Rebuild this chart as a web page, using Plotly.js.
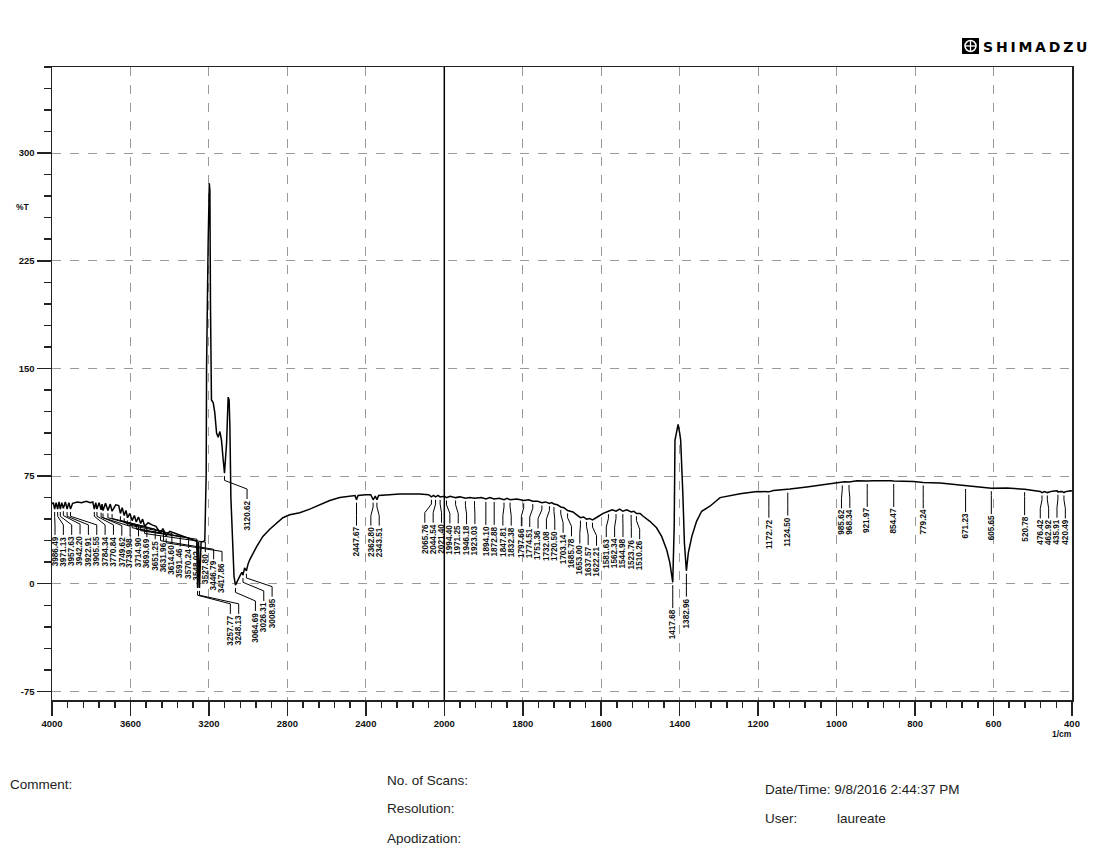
<!DOCTYPE html>
<html>
<head>
<meta charset="utf-8">
<script src="https://cdn.plot.ly/plotly-3.0.1.min.js"></script>
<style>
  html, body { margin: 0; padding: 0; background: #fff; }
  #chart { width: 1094px; height: 845px; }
</style>
</head>
<body>
<div id="chart"></div>
<script>
// ---- spectrum data: wavenumber (1/cm) and %T ----
const wavenumbers = [
  4000, 3993, 3986.49, 3979, 3971.13, 3964, 3957.63, 3950, 3942.20, 3932, 3922.91, 3914, 3905.55, 3895,
  3870, 3850, 3825, 3805, 3792, 3784.34, 3777, 3770.84, 3760, 3749.62, 3745, 3739.98, 3727, 3714.90,
  3703, 3693.69, 3675, 3660, 3651.25, 3642, 3631.96, 3623, 3614.60, 3603, 3591.46, 3580, 3570.24, 3559,
  3548.02, 3538, 3527.80, 3510, 3490, 3470, 3446.79, 3435, 3417.86, 3400, 3370, 3340, 3300, 3275, 3262,
  3257.77, 3253, 3248.13, 3240, 3230, 3221, 3214, 3212, 3204, 3198, 3195, 3192, 3187, 3178, 3170, 3161,
  3153, 3144, 3136, 3127, 3120.62, 3110, 3102, 3097, 3093, 3088, 3080, 3072, 3064.69, 3058, 3050, 3040,
  3032, 3026.31, 3018, 3008.95, 3000, 2991, 2956, 2925, 2890, 2854, 2823, 2788, 2737, 2686, 2635, 2584,
  2533, 2482, 2455, 2447.67, 2440, 2400, 2375, 2362.80, 2352, 2343.51, 2335, 2280, 2227, 2125, 2080,
  2065.76, 2055, 2044.54, 2032, 2021.40, 2000, 1994.40, 1985, 1971.25, 1960, 1946.18, 1935, 1923.03,
  1905, 1894.10, 1884, 1872.88, 1860, 1847.81, 1840, 1832.38, 1815, 1797.66, 1785, 1774.51, 1762,
  1751.36, 1742, 1732.08, 1726, 1720.50, 1712, 1703.14, 1695, 1685.78, 1672, 1660, 1653.00, 1645,
  1637.57, 1630, 1622.21, 1610, 1595, 1581.63, 1572, 1562.34, 1553, 1544.98, 1535, 1523.76, 1517,
  1510.26, 1501, 1493, 1476, 1459, 1446, 1433, 1425, 1417.68, 1414, 1412, 1407, 1404, 1400, 1397.5,
  1392, 1388, 1382.96, 1378, 1369, 1357, 1344, 1323, 1297, 1270, 1246, 1203, 1172.72, 1161, 1124.50,
  1119, 1076, 1034, 985.62, 980, 968.34, 948, 921.97, 906, 863, 854.47, 804, 779.24, 736, 693, 671.23,
  651, 608, 605.65, 566, 523, 520.78, 481, 476.42, 470, 462.92, 450, 438, 435.91, 425, 420.49, 417, 404, 400
];
const transmittance = [
  55.5, 56.5, 52, 56.5, 52, 57, 52, 56.5, 52.5, 57, 52, 56.5, 52, 56,
  57, 56.5, 57.5, 56.5, 57, 52, 56.5, 52, 56.5, 51.5, 55.5, 51, 56, 51,
  55.5, 50.5, 55, 54.5, 49, 53, 47.5, 51, 46, 49, 44, 47.5, 43, 46.5,
  42, 45, 40, 42.5, 41, 40, 35, 38.5, 33.5, 36.5, 35, 33.5, 31.5, 30, 29.5,
  -3, 29, -3, 29, 29.5, 30, 76, 151, 237, 279, 274, 193, 128, 126, 119, 105,
  102, 106, 100, 86, 77, 98, 130, 128, 109, 60, 25, 5, -1, 1, 4, 6,
  8, 6, 11, 9, 14, 17, 26, 33, 38, 42.5, 46, 48, 49.5, 52, 55, 58,
  60, 61, 61.5, 58.5, 61.5, 62, 62, 58.5, 61, 58.5, 61.5, 62, 62.5, 62.5, 62,
  60.5, 61.5, 60.5, 61.5, 60.5, 61, 60, 61, 60, 60.5, 59.5, 60, 59.5,
  60, 59, 60, 59, 59.5, 58.5, 59.5, 58.5, 59, 58, 58.5, 57.5, 57.5,
  56.5, 57, 56, 56.5, 55.5, 55, 53.5, 53, 51, 50, 47.5, 46, 46.5,
  45, 45.5, 44.5, 46.5, 49, 50.5, 51.5, 50.5, 52, 50.5, 51.5, 50, 50.5,
  49, 49, 47, 43.5, 39, 33, 23.5, 14.5, 1, 40, 100, 109, 111, 105, 100,
  63, 28.5, 9, 21.5, 33, 43.5, 50.5, 54, 60, 61.5, 62.7, 64.3, 64, 65, 65.5,
  66, 67.4, 69, 70.5, 71, 70.8, 71.8, 71.5, 71.8, 71.8, 71.5, 71.3, 70.5, 70.2, 69, 68,
  67.4, 66.7, 66.5, 66.7, 66, 65.8, 64.3, 63.5, 64.2, 63.5, 64.5, 64.8, 64, 64.3, 63.5, 64.1, 64.8, 64.5
];

// ---- peak labels (wavenumbers of picked peaks) ----
const peakLabels = [
  "3986.49", "3971.13", "3957.63", "3942.20", "3922.91", "3905.55", "3784.34", "3770.84", "3749.62",
  "3739.98", "3714.90", "3693.69", "3651.25", "3631.96", "3614.60", "3591.46", "3570.24", "3548.02",
  "3527.80", "3446.79", "3417.86", "3257.77", "3248.13", "3120.62", "3064.69", "3026.31", "3008.95",
  "2447.67", "2362.80", "2343.51", "2065.76", "2044.54", "2021.40", "1994.40", "1971.25", "1946.18",
  "1923.03", "1894.10", "1872.88", "1847.81", "1832.38", "1797.66", "1774.51", "1751.36", "1732.08",
  "1720.50", "1703.14", "1685.78", "1653.00", "1637.57", "1622.21", "1581.63", "1562.34", "1544.98",
  "1523.76", "1510.26", "1417.68", "1382.96", "1172.72", "1124.50", "985.62", "968.34", "921.97",
  "854.47", "779.24", "671.23", "605.65", "520.78", "476.42", "462.92", "435.91", "420.49"
];

// ---- axis ticks ----
const xTickValues = [4000, 3600, 3200, 2800, 2400, 2000, 1800, 1600, 1400, 1200, 1000, 800, 600, 400];
const yTickValues = [-75, 0, 75, 150, 225, 300];

// ---- footer texts ----
const footerLeft = ["Comment:"];
const footerMid = ["No. of Scans:", "Resolution:", "Apodization:"];
const footerRight = ["Date/Time: 9/8/2016 2:44:37 PM", "User:", "laureate"];

// Shimadzu x scale: 4000-2000 compressed by 2 relative to 2000-400
function toU(w) { return w <= 2000 ? w : 2000 + (w - 2000) / 2; }

const M = { l: 52, r: 22, t: 67, b: 145 };
const FIG_W = 1094, FIG_H = 845;
const PW = FIG_W - M.l - M.r, PH = FIG_H - M.t - M.b;
const U_MAX = toU(4000), U_MIN = toU(400);
const Y_MIN = -81, Y_MAX = 360;
const uPerPx = (U_MAX - U_MIN) / PW;
const pxX = (px) => (px - M.l) / PW;          // figure px -> paper x
const pxY = (py) => (FIG_H - M.b - py) / PH;   // figure py -> paper y

function valueAt(w) {
  for (let i = 0; i < wavenumbers.length; i++) {
    if (Math.abs(wavenumbers[i] - w) < 1e-6) return transmittance[i];
    if (i > 0 && wavenumbers[i - 1] > w && wavenumbers[i] < w) {
      const t = (wavenumbers[i - 1] - w) / (wavenumbers[i - 1] - wavenumbers[i]);
      return transmittance[i - 1] + t * (transmittance[i] - transmittance[i - 1]);
    }
  }
  return transmittance[transmittance.length - 1];
}

// label spreading (in pixels inside the plot)
const peakW = peakLabels.map(Number);
const peakV = peakW.map(valueAt);
const truePx = peakW.map(w => (U_MAX - toU(w)) / uPerPx);
const lab = truePx.slice();
const SPACING = 8.35;
for (let it = 0; it < 4000; it++) {
  for (let i = 1; i < lab.length; i++) {
    const gap = lab[i] - lab[i - 1];
    if (gap < SPACING) {
      const d = (SPACING - gap) / 2;
      lab[i - 1] -= d; lab[i] += d;
    }
  }
  if (lab[0] < 3) lab[0] = 3;
  if (lab[lab.length - 1] > PW - 2) lab[lab.length - 1] = PW - 2;
}

const shapes = [];
const annotations = [];
peakLabels.forEach((txt, i) => {
  const u0 = toU(peakW[i]);
  const u1 = U_MAX - lab[i] * uPerPx;
  const v = peakV[i];
  shapes.push({
    type: 'path', xref: 'x', yref: 'y', layer: 'above',
    path: `M${u0},${v - 2} L${u0},${v - 5} L${u1},${v - 11} L${u1},${v - 18}`,
    line: { color: '#000', width: 1 }
  });
  annotations.push({
    xref: 'x', yref: 'y', x: u1, y: v - 18.3, text: txt, textangle: -90,
    showarrow: false, xanchor: 'center', yanchor: 'top', borderpad: 0,
    font: { size: 8.2, color: '#111', family: 'Liberation Sans, Arial, sans-serif', weight: 'bold' }
  });
});

// solid line at 2000 1/cm (scale change)
shapes.push({ type: 'line', xref: 'x', yref: 'paper', x0: toU(2000), x1: toU(2000), y0: 0, y1: 1,
  line: { color: '#000', width: 1.5 }, layer: 'above' });

// logo
shapes.push({ type: 'rect', xref: 'paper', yref: 'paper', x0: pxX(962), x1: pxX(979), y0: pxY(54), y1: pxY(38),
  fillcolor: '#000', line: { width: 0 } });
shapes.push({ type: 'circle', xref: 'paper', yref: 'paper', x0: pxX(965), x1: pxX(976), y0: pxY(51.5), y1: pxY(40.5),
  line: { color: '#fff', width: 1.5 } });
shapes.push({ type: 'line', xref: 'paper', yref: 'paper', x0: pxX(970.5), x1: pxX(970.5), y0: pxY(51.5), y1: pxY(40.5),
  line: { color: '#fff', width: 1.3 } });
shapes.push({ type: 'line', xref: 'paper', yref: 'paper', x0: pxX(965), x1: pxX(976), y0: pxY(46), y1: pxY(46),
  line: { color: '#fff', width: 1.3 } });
annotations.push({ xref: 'paper', yref: 'paper', x: pxX(981), y: pxY(46.5), xanchor: 'left', yanchor: 'middle',
  showarrow: false, text: 'S\u2009H\u2009I\u2009M\u2009A\u2009D\u2009Z\u2009U',
  font: { size: 14, color: '#000', family: 'DejaVu Sans, sans-serif', weight: 'bold' } });

// axis side labels
annotations.push({ xref: 'paper', yref: 'y', x: pxX(23), y: 262.5, text: '%T', showarrow: false,
  xanchor: 'center', yanchor: 'middle', font: { size: 8.5, color: '#111', weight: 'bold' } });
annotations.push({ xref: 'paper', yref: 'paper', x: pxX(1062), y: pxY(734), text: '1/cm', showarrow: false,
  xanchor: 'center', yanchor: 'middle', font: { size: 8.5, color: '#111', weight: 'bold' } });

// footer
const footFont = { size: 13.5, color: '#222', family: 'Liberation Sans, Arial, sans-serif' };
const foot = (txt, px, py) => annotations.push({ xref: 'paper', yref: 'paper', x: pxX(px), y: pxY(py),
  xanchor: 'left', yanchor: 'middle', showarrow: false, text: txt, font: footFont });
foot(footerLeft[0], 8, 784);
foot(footerMid[0], 385, 781);
foot(footerMid[1], 385, 808);
foot(footerMid[2], 385, 838);
foot(footerRight[0], 763, 789);
foot(footerRight[1], 763, 819);
foot(footerRight[2], 835, 819);

const trace = {
  x: wavenumbers.map(toU), y: transmittance, type: 'scatter', mode: 'lines',
  line: { color: '#000', width: 1.5 }, hoverinfo: 'skip'
};

const axisCommon = {
  showline: true, mirror: true, linecolor: '#222', linewidth: 1.5,
  ticks: 'outside', tickcolor: '#222', tickwidth: 1.5, ticklen: 14,
  showgrid: true, gridcolor: '#9a9a9a', gridwidth: 1, griddash: 'dash',
  zeroline: false, tickfont: { size: 9.5, color: '#111', weight: 'bold' }
};

const layout = {
  width: FIG_W, height: FIG_H,
  margin: M, paper_bgcolor: '#fff', plot_bgcolor: '#fff',
  showlegend: false,
  font: { family: 'Liberation Sans, Arial, sans-serif' },
  xaxis: Object.assign({}, axisCommon, {
    range: [U_MAX, U_MIN], tickmode: 'array',
    tickvals: xTickValues.map(toU), ticktext: xTickValues.map(String),
    minor: { tickmode: 'linear', dtick: 40, tick0: 400, ticks: 'outside', ticklen: 6, tickwidth: 1.5,
      tickcolor: '#222', showgrid: false }
  }),
  yaxis: Object.assign({}, axisCommon, {
    range: [Y_MIN, Y_MAX], tickmode: 'array',
    tickvals: yTickValues, ticktext: yTickValues.map(String),
    minor: { tickmode: 'linear', dtick: 15, tick0: 0, ticks: 'outside', ticklen: 7, tickwidth: 1.5,
      tickcolor: '#222', showgrid: false }
  }),
  shapes: shapes,
  annotations: annotations
};

Plotly.newPlot('chart', [trace], layout, { displayModeBar: false, staticPlot: true });
</script>
</body>
</html>
